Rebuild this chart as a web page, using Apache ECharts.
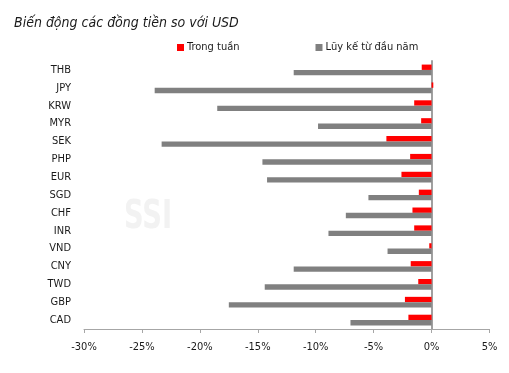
<!DOCTYPE html>
<html>
<head>
<meta charset="utf-8">
<script src="https://cdn.jsdelivr.net/npm/echarts@6/dist/echarts.min.js"></script>
<style>
html,body{margin:0;padding:0;background:#fff;}
#c{width:509px;height:373px;}
</style>
</head>
<body>
<div id="c"></div>
<script>
var categories = ['THB','JPY','KRW','MYR','SEK','PHP','EUR','SGD','CHF','INR','VND','CNY','TWD','GBP','CAD'];
var weekly = [-0.85, 0.15, -1.5, -0.9, -3.9, -1.85, -2.6, -1.1, -1.65, -1.5, -0.2, -1.8, -1.15, -2.3, -2.0];
var ytd = [-11.9, -23.9, -18.5, -9.8, -23.3, -14.6, -14.2, -5.45, -7.4, -8.9, -3.8, -11.9, -14.4, -17.5, -7.0];
var seriesNames = ['Trong tuần', 'Lũy kế từ đầu năm'];
var xTicks = {min: -30, max: 5, interval: 5};

var FONT = '"DejaVu Sans Condensed", "Liberation Sans Narrow", "Liberation Sans", sans-serif';
var chart = echarts.init(document.getElementById('c'), null, {renderer: 'canvas'});
chart.setOption({
  animation: false,
  title: {
    text: 'Biến động các đồng tiền so với USD',
    left: 9, top: 11,
    textStyle: {fontFamily: FONT, fontStyle: 'italic', fontWeight: 'normal', fontSize: 14, color: '#1a1a1a'}
  },
  legend: {
    top: 37, left: 172,
    itemWidth: 7, itemHeight: 7, itemGap: 76,
    icon: 'rect',
    textStyle: {fontFamily: FONT, fontSize: 11, color: '#1a1a1a', padding: [0,0,0,-2]},
    data: seriesNames
  },
  graphic: [{
    type: 'text', left: 124, top: 198, z: 0, scaleX: 0.78,
    style: {text: 'SSI', fontFamily: FONT, fontWeight: 'bold', fontSize: 39, fill: '#f2f2f2'}
  }],
  grid: {left: 84, right: 19.5, top: 61, bottom: 44, containLabel: false},
  xAxis: {
    type: 'value', min: xTicks.min, max: xTicks.max, interval: xTicks.interval,
    axisLine: {show: true, onZero: false, lineStyle: {color: '#a6a6a6', width: 1}},
    axisTick: {show: true, length: 4, lineStyle: {color: '#a6a6a6'}},
    splitLine: {show: false},
    axisLabel: {formatter: '{value}%', fontFamily: FONT, fontSize: 11, color: '#1a1a1a', margin: 13}
  },
  yAxis: [{
    type: 'category', data: categories, inverse: true,
    axisLine: {show: false, onZero: false}, axisTick: {show: false},
    axisLabel: {fontFamily: FONT, fontSize: 11, color: '#1a1a1a', margin: 13}
  }, {
    type: 'category', data: categories, inverse: true,
    axisLine: {show: true, onZero: true, onZeroAxisIndex: 0, lineStyle: {color: '#a0a0a0', width: 2}},
    axisTick: {show: false}, axisLabel: {show: false}, splitLine: {show: false}
  }],
  series: [{
    name: seriesNames[0], type: 'bar', data: weekly, yAxisIndex: 0,
    barWidth: '30%', barGap: '0%',
    itemStyle: {color: '#ff0000'}
  }, {
    name: seriesNames[1], type: 'bar', data: ytd, yAxisIndex: 0,
    barWidth: '30%', barGap: '0%',
    itemStyle: {color: '#808080'}
  }]
});
</script>
</body>
</html>
